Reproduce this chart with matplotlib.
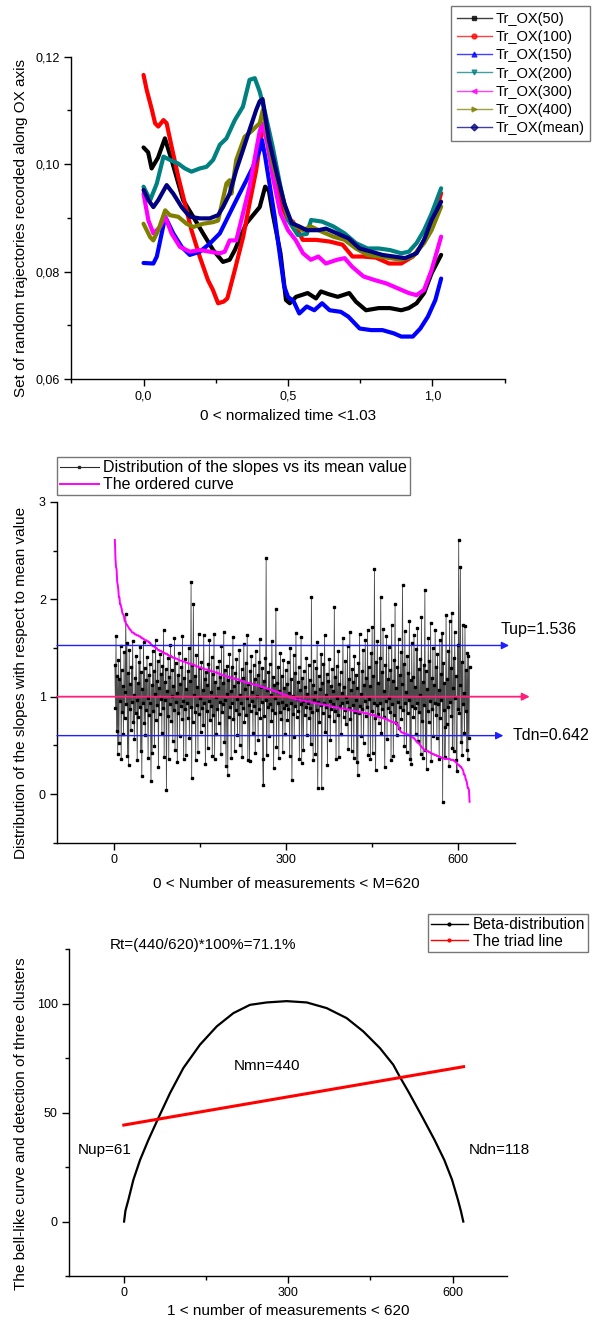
import matplotlib
matplotlib.use('Agg')
import matplotlib.pyplot as plt
from matplotlib.lines import Line2D
from matplotlib.ticker import MultipleLocator, FuncFormatter
import numpy as np

plt.rcParams['font.family'] = ['Liberation Sans', 'DejaVu Sans']

# ---------------- Panel 1 data: trajectories along OX ----------------
t50_x = [0, 0.016, 0.028, 0.05, 0.074, 0.097, 0.137, 0.172, 0.206, 0.241, 0.275, 0.298, 0.316, 0.356, 0.402,
         0.421, 0.434, 0.447, 0.474, 0.493, 0.506, 0.528, 0.568, 0.597, 0.614, 0.64, 0.672, 0.712, 0.735, 0.77,
         0.814, 0.853, 0.892, 0.918, 0.945, 0.971, 0.997, 1.03]
t50_y = [0.1031, 0.1022, 0.0992, 0.1012, 0.1048, 0.1008, 0.0933, 0.0902, 0.0871, 0.084, 0.0818, 0.0822, 0.084,
         0.089, 0.092, 0.0958, 0.0950, 0.0908, 0.0834, 0.0747, 0.0741, 0.0753, 0.0760, 0.0750, 0.0763, 0.0758,
         0.0753, 0.0760, 0.0744, 0.0728, 0.0732, 0.0732, 0.0728, 0.0732, 0.0741, 0.0760, 0.0797, 0.0831]

t100_x = [0, 0.011, 0.029, 0.04, 0.051, 0.069, 0.08, 0.097, 0.12, 0.143, 0.166, 0.195, 0.223, 0.24, 0.258, 0.277,
          0.29, 0.298, 0.316, 0.345, 0.367, 0.39, 0.41, 0.421, 0.447, 0.48, 0.5, 0.517, 0.551, 0.597, 0.643, 0.689,
          0.723, 0.758, 0.804, 0.85, 0.892, 0.932, 0.958, 0.997, 1.03]
t100_y = [0.1166, 0.1138, 0.1101, 0.1076, 0.107, 0.1082, 0.1076, 0.1033, 0.0977, 0.0927, 0.0877, 0.0827, 0.0784,
          0.0766, 0.0741, 0.0744, 0.075, 0.0766, 0.0803, 0.0865, 0.0927, 0.0989, 0.1063, 0.1063, 0.1008, 0.092,
          0.0896, 0.0893, 0.0859, 0.0859, 0.0856, 0.085, 0.0828, 0.0828, 0.0826, 0.0815, 0.0815, 0.0828, 0.0846,
          0.0884, 0.0946]

t150_x = [0, 0.034, 0.046, 0.075, 0.103, 0.132, 0.16, 0.195, 0.229, 0.264, 0.287, 0.321, 0.356, 0.379, 0.402,
          0.41, 0.421, 0.434, 0.454, 0.474, 0.487, 0.5, 0.52, 0.539, 0.565, 0.591, 0.618, 0.644, 0.683, 0.709,
          0.748, 0.788, 0.827, 0.866, 0.892, 0.932, 0.958, 0.984, 1.01, 1.03]
t150_y = [0.0816, 0.0815, 0.0828, 0.0902, 0.0871, 0.0846, 0.0831, 0.0837, 0.0852, 0.0871, 0.0896, 0.0933, 0.097,
          0.0995, 0.1026, 0.1045, 0.1014, 0.097, 0.0902, 0.0822, 0.0772, 0.0753, 0.0744, 0.0722, 0.0735, 0.0728,
          0.0741, 0.0728, 0.0725, 0.0716, 0.0694, 0.0691, 0.0691, 0.0685, 0.0679, 0.0679, 0.0694, 0.0716, 0.0747,
          0.0787]

t200_x = [0, 0.023, 0.046, 0.069, 0.091, 0.12, 0.143, 0.166, 0.195, 0.218, 0.241, 0.264, 0.287, 0.316, 0.344,
          0.367, 0.385, 0.402, 0.421, 0.447, 0.474, 0.5, 0.534, 0.565, 0.58, 0.618, 0.657, 0.696, 0.735, 0.775,
          0.814, 0.853, 0.892, 0.918, 0.945, 0.971, 0.997, 1.03]
t200_y = [0.0958, 0.0933, 0.0964, 0.1014, 0.1008, 0.1001, 0.0992, 0.0986, 0.0992, 0.0995, 0.1008, 0.1036, 0.1048,
          0.1082, 0.1107, 0.1157, 0.116, 0.1135, 0.1095, 0.1032, 0.0958, 0.0896, 0.0868, 0.0870, 0.0896, 0.0893,
          0.0884, 0.0871, 0.0853, 0.0843, 0.0843, 0.084, 0.0834, 0.0837, 0.0853, 0.0877, 0.0908, 0.0955]

t300_x = [0, 0.017, 0.034, 0.057, 0.075, 0.097, 0.126, 0.16, 0.195, 0.229, 0.264, 0.281, 0.298, 0.321, 0.344,
          0.367, 0.39, 0.402, 0.411, 0.428, 0.447, 0.474, 0.5, 0.526, 0.552, 0.579, 0.605, 0.631, 0.67, 0.696,
          0.722, 0.761, 0.801, 0.84, 0.879, 0.918, 0.945, 0.971, 0.997, 1.03]
t300_y = [0.0945, 0.0895, 0.0871, 0.0883, 0.0902, 0.0871, 0.0846, 0.0837, 0.084, 0.0837, 0.0834, 0.0837, 0.0858,
          0.0858, 0.0908, 0.0958, 0.1026, 0.1061, 0.1076, 0.1039, 0.0977, 0.0908, 0.0877, 0.0859, 0.0834, 0.0822,
          0.0828, 0.0815, 0.0822, 0.0825, 0.0809, 0.0791, 0.0784, 0.0778, 0.0769, 0.076, 0.0756, 0.0766, 0.0803,
          0.0865]

t400_x = [0, 0.023, 0.034, 0.051, 0.075, 0.091, 0.12, 0.149, 0.172, 0.206, 0.241, 0.258, 0.287, 0.298, 0.304,
          0.321, 0.35, 0.373, 0.39, 0.402, 0.413, 0.428, 0.447, 0.474, 0.5, 0.526, 0.552, 0.579, 0.618, 0.657,
          0.696, 0.735, 0.775, 0.814, 0.853, 0.892, 0.932, 0.971, 0.997, 1.03]
t400_y = [0.0889, 0.0864, 0.0858, 0.0877, 0.0914, 0.0905, 0.0902, 0.0889, 0.0883, 0.0889, 0.0892, 0.0895, 0.0964,
          0.097, 0.0945, 0.1008, 0.1051, 0.1061, 0.107, 0.1076, 0.1101, 0.1057, 0.1001, 0.0952, 0.0902, 0.0884,
          0.0877, 0.0884, 0.0874, 0.0865, 0.0859, 0.0843, 0.0831, 0.0828, 0.0825, 0.0822, 0.0828, 0.0853, 0.0877,
          0.0921]

tmean_x = [0, 0.017, 0.034, 0.051, 0.08, 0.103, 0.132, 0.16, 0.195, 0.229, 0.258, 0.275, 0.298, 0.321, 0.344,
           0.367, 0.39, 0.402, 0.412, 0.434, 0.461, 0.487, 0.513, 0.539, 0.565, 0.605, 0.631, 0.67, 0.709, 0.748,
           0.788, 0.827, 0.866, 0.905, 0.945, 0.971, 0.997, 1.03]
tmean_y = [0.0952, 0.0933, 0.092, 0.0933, 0.0961, 0.0945, 0.092, 0.0902, 0.0899, 0.0899, 0.0905, 0.092, 0.0945,
           0.0989, 0.1026, 0.1064, 0.1101, 0.1117, 0.1121, 0.1045, 0.0983, 0.0927, 0.089, 0.0884, 0.0877, 0.0877,
           0.088, 0.0871, 0.0862, 0.0843, 0.0837, 0.0831, 0.0828, 0.0825, 0.0834, 0.0859, 0.0896, 0.093]

traj_labels = ['Tr_OX(50)', 'Tr_OX(100)', 'Tr_OX(150)', 'Tr_OX(200)', 'Tr_OX(300)', 'Tr_OX(400)', 'Tr_OX(mean)']

# ---------------- Panel 2 data: slopes relative to mean ----------------
slopes = [
    1.33, 0.88, 1.62, 0.65, 1.21, 0.41, 1.38, 0.52, 1.18, 0.96, 1.52, 0.36, 1.27, 0.84, 1.11, 0.62, 1.46, 0.78, 1.05, 1.85,
    0.92, 1.55, 0.39, 1.24, 0.30, 1.48, 0.87, 1.13, 0.66, 1.31, 0.95, 1.57, 0.74, 1.02, 0.57, 1.19, 0.83, 1.42, 0.97, 0.35,
    1.14, 0.79, 1.36, 0.89, 1.51, 0.44, 1.25, 0.19, 1.08, 0.93, 1.56, 0.73, 1.29, 0.61, 1.17, 0.86, 1.41, 0.99, 0.37, 1.22,
    0.81, 1.34, 0.94, 0.13, 1.12, 0.42, 1.47, 0.85, 1.26, 0.49, 1.03, 1.58, 0.76, 1.16, 0.91, 1.37, 0.28, 1.09, 0.82, 1.44,
    0.98, 1.23, 0.63, 1.32, 0.88, 1.69, 0.38, 1.15, 0.97, 1.28, 0.04, 1.06, 0.80, 1.40, 0.36, 1.20, 0.92, 1.53, 0.75, 1.01,
    1.27, 0.54, 1.11, 0.86, 1.60, 0.45, 1.35, 0.95, 1.04, 0.33, 1.22, 0.83, 1.45, 0.60, 1.13, 0.90, 1.30, 0.77, 1.62, 0.96,
    0.36, 1.19, 0.87, 1.39, 0.40, 1.08, 0.93, 1.26, 0.78, 1.50, 0.58, 1.16, 0.89, 2.18, 0.16, 1.33, 0.74, 1.95, 1.02, 0.84,
    1.21, 0.35, 1.43, 0.91, 1.10, 0.43, 1.64, 0.82, 1.29, 0.99, 0.64, 1.36, 0.88, 1.07, 0.71, 1.63, 0.94, 1.18, 0.31, 1.25,
    0.85, 1.12, 0.47, 1.34, 0.96, 1.58, 0.76, 1.05, 0.90, 1.41, 0.39, 1.23, 0.81, 1.64, 0.36, 1.15, 1.00, 0.62, 1.30, 0.87,
    1.09, 0.73, 1.37, 0.95, 1.20, 0.41, 1.52, 0.84, 1.14, 0.92, 1.66, 0.53, 1.27, 0.97, 0.29, 1.03, 1.32, 0.20, 1.17, 0.79,
    1.44, 0.89, 1.06, 0.37, 1.31, 0.93, 1.61, 0.77, 1.11, 0.44, 1.24, 0.86, 1.39, 0.98, 0.61, 1.15, 0.82, 1.48, 0.50, 1.02,
    0.94, 1.28, 0.38, 1.19, 0.88, 1.54, 0.74, 1.08, 1.35, 0.81, 0.99, 1.63, 0.35, 1.13, 0.91, 0.34, 1.26, 0.85, 1.42, 0.96,
    1.05, 0.63, 1.33, 0.90, 1.18, 0.42, 1.47, 0.83, 1.01, 1.22, 0.56, 1.36, 0.87, 1.59, 0.78, 1.10, 0.95, 1.29, 0.36, 0.09,
    1.16, 0.80, 1.40, 0.97, 2.42, 0.40, 1.07, 0.89, 1.25, 0.60, 1.34, 0.92, 1.02, 0.75, 1.57, 0.86, 1.20, 0.27, 1.12, 0.83,
    0.99, 1.90, 0.48, 1.14, 0.93, 1.31, 0.37, 1.06, 0.84, 1.45, 0.77, 1.21, 0.95, 0.43, 1.38, 0.88, 1.09, 0.62, 1.27, 0.91,
    1.13, 0.76, 1.36, 0.87, 1.04, 0.39, 1.50, 0.94, 1.18, 0.14, 1.01, 0.82, 1.43, 0.59, 1.24, 0.90, 1.65, 0.79, 0.98, 1.15,
    0.85, 1.30, 0.36, 1.07, 0.92, 1.61, 0.32, 1.19, 0.96, 0.45, 1.26, 0.81, 1.10, 0.89, 1.40, 0.61, 1.03, 0.93, 1.33, 0.78,
    1.17, 0.88, 0.51, 2.02, 0.84, 1.12, 0.35, 1.37, 0.97, 1.05, 0.41, 1.29, 0.86, 1.56, 0.06, 0.95, 1.21, 0.74, 1.08, 0.91,
    1.44, 0.06, 1.14, 0.83, 1.34, 0.94, 1.63, 0.64, 1.02, 0.89, 1.23, 0.30, 1.16, 0.80, 1.39, 0.96, 0.55, 1.11, 0.87, 1.28,
    0.92, 1.06, 0.75, 1.92, 0.85, 1.20, 0.36, 1.32, 0.99, 0.81, 1.47, 0.38, 1.13, 0.90, 1.25, 0.62, 1.04, 0.93, 1.60, 0.79,
    1.10, 0.86, 1.37, 0.72, 1.00, 0.95, 1.52, 0.46, 1.18, 0.88, 1.66, 0.77, 1.07, 0.44, 1.28, 0.91, 1.15, 0.37, 1.42, 0.84,
    0.97, 1.22, 0.33, 1.09, 0.20, 1.35, 0.83, 1.64, 0.90, 1.03, 0.60, 1.26, 0.87, 1.48, 0.52, 1.12, 0.96, 1.58, 0.80, 1.19,
    0.89, 1.68, 0.40, 1.30, 0.98, 1.11, 0.36, 1.45, 0.85, 1.72, 0.42, 1.21, 0.94, 2.31, 0.78, 0.25, 1.36, 0.91, 1.57, 0.82,
    1.14, 0.73, 1.40, 0.93, 2.02, 0.63, 1.25, 0.87, 1.70, 0.79, 1.06, 0.28, 1.33, 0.96, 1.62, 0.57, 1.18, 0.88, 1.51, 0.99,
    0.84, 1.27, 0.35, 1.74, 0.92, 1.16, 0.39, 1.38, 0.81, 1.95, 0.73, 1.09, 0.61, 1.31, 0.95, 1.59, 0.68, 1.22, 0.89, 1.46,
    0.77, 1.13, 2.15, 0.86, 1.34, 0.49, 1.67, 0.94, 1.05, 0.43, 1.42, 0.83, 1.24, 0.97, 1.78, 0.36, 1.17, 0.31, 1.55, 0.90,
    1.20, 0.79, 1.63, 0.88, 1.10, 0.62, 1.49, 0.93, 1.71, 0.54, 1.28, 0.84, 1.02, 1.39, 0.41, 1.82, 0.75, 1.15, 0.37, 1.33,
    0.91, 2.10, 0.45, 1.26, 0.26, 1.08, 0.85, 1.60, 0.74, 1.37, 0.96, 1.76, 0.34, 1.19, 0.87, 1.50, 0.60, 1.12, 0.94, 1.69,
    0.81, 1.30, 0.58, 1.44, 0.92, 1.07, 0.36, 1.58, 0.78, 1.23, 0.97, 1.65, -0.08, 1.35, 0.86, 1.14, 0.38, 0.69, 1.84, 0.72,
    1.18, 0.89, 1.47, 0.29, 1.78, 0.95, 1.29, 0.80, 1.86, 0.47, 1.09, 1.40, 0.44, 1.66, 0.99, 1.21, 0.35, 0.24, 1.53, 0.87,
    2.61, 0.83, 1.12, 2.33, 0.53, 1.36, 0.40, 1.74, 0.92, 1.04, 0.63, 1.73, 0.85, 1.27, 0.45, 1.45, 0.36, 1.42, 0.58, 1.30,
]
tup_value = 1.536
tdn_value = 0.642
tdn_line = 0.60   # level at which the Tdn arrow is drawn in the figure
mean_level = 1.0

# ---------------- Panel 3 data: bell-like curve & triad line ----------------
beta_x = [0.5, 3, 8.4, 17.5, 29.7, 44.9, 63, 84.4, 108.7, 139, 169.6, 200, 230.3, 260.8, 297.3, 333.8, 370.2,
          406.7, 437, 467.5, 491.7, 504, 520.8, 545.8, 567, 584.8, 599, 609.7, 615, 619.5]
beta_y = [0, 5, 10, 19.2, 28.3, 37.5, 47.5, 59, 70.5, 81.2, 89.6, 95.7, 99.5, 100.6, 101.2, 100.6, 98, 93.4, 87.3,
          79.6, 72, 66.3, 59, 47.5, 37.5, 28.3, 19.2, 10, 5, 0]
triad_x = [0, 620]
triad_y = [44.3, 71.1]

# ---------------- Figure ----------------
W, H = 595, 1324
fig = plt.figure(figsize=(W / 100, H / 100), dpi=100)


def add_axes(l, r, t, b):
    return fig.add_axes([l / W, 1 - b / H, (r - l) / W, (b - t) / H])


def style(ax):
    for s in ('top', 'right'):
        ax.spines[s].set_visible(False)
    for s in ('left', 'bottom'):
        ax.spines[s].set_linewidth(1.0)
    ax.tick_params(which='major', direction='out', length=5, width=1, labelsize=9, pad=3)
    ax.tick_params(which='minor', direction='out', length=3, width=1)


LAB_FS = 11

# ---- Panel 1 ----
ax1 = add_axes(71.3, 504.7, 56.7, 379)
style(ax1)
series = [(t50_x, t50_y, 'black', 's'), (t100_x, t100_y, '#ff0000', 'o'), (t150_x, t150_y, '#0000ff', '^'),
          (t200_x, t200_y, '#008080', 'v'), (t300_x, t300_y, '#ff00ff', '<'), (t400_x, t400_y, '#808000', '>'),
          (tmean_x, tmean_y, '#000080', 'D')]
handles1 = []
for (xs, ys, c, m), lab in zip(series, traj_labels):
    ax1.plot(xs, ys, color=c, lw=3.0, solid_joinstyle='round', solid_capstyle='round')
    handles1.append(Line2D([], [], color=c, lw=1.0, alpha=0.75, marker=m, markersize=3.5,
                           markerfacecolor=c, markeredgecolor=c))
ax1.set_xlim(-0.25, 1.25)
ax1.set_ylim(0.06, 0.12)
ax1.xaxis.set_major_locator(MultipleLocator(0.5))
ax1.xaxis.set_minor_locator(MultipleLocator(0.25))
ax1.yaxis.set_major_locator(MultipleLocator(0.02))
ax1.yaxis.set_minor_locator(MultipleLocator(0.01))
ax1.xaxis.set_major_formatter(FuncFormatter(lambda v, p: f"{v:.1f}".replace('.', ',')))
ax1.yaxis.set_major_formatter(FuncFormatter(lambda v, p: f"{v:.2f}".replace('.', ',')))
ax1.set_ylabel('Set of random trajectories recorded along OX axis', fontsize=LAB_FS)
ax1.yaxis.set_label_coords(-0.10, 0.47)
ax1.set_xlabel('0 < normalized time <1.03', fontsize=LAB_FS)
ax1.xaxis.set_label_coords(0.5, -0.093)
leg1 = fig.legend(handles1, traj_labels, loc='upper left', bbox_to_anchor=(451 / W, 1 - 6 / H),
                  bbox_transform=fig.transFigure, fontsize=10.5, frameon=True, fancybox=False,
                  edgecolor='#555555', borderaxespad=0, handlelength=2.4, handletextpad=0.25,
                  labelspacing=0.29, borderpad=0.4)
leg1.get_frame().set_linewidth(1.0)

# ---- Panel 2 ----
ax2 = add_axes(57, 515.4, 502, 842.7)
style(ax2)
idx = np.arange(1, len(slopes) + 1)
ordered = np.sort(np.array(slopes))[::-1]
ax2.plot(idx, slopes, color='#4a4a4a', lw=0.6, marker='s', markersize=1.6, markerfacecolor='black',
         markeredgecolor='black', zorder=2)
ax2.plot(idx, ordered, color='#ff00ff', lw=1.4, zorder=3)
ax2.set_xlim(-100, 700)
ax2.set_ylim(-0.5, 3)
arrow_kw = dict(arrowstyle='-|>', mutation_scale=11, shrinkA=0, shrinkB=0)
ax2.annotate('', xy=(689, tup_value - 0.01), xytext=(-100, tup_value - 0.01), annotation_clip=False,
             arrowprops=dict(color='#1f1fff', lw=1.0, **arrow_kw), zorder=4)
ax2.annotate('', xy=(679, tdn_line), xytext=(-100, tdn_line), annotation_clip=False,
             arrowprops=dict(color='#1f1fff', lw=1.0, **arrow_kw), zorder=4)
ax2.annotate('', xy=(725, mean_level), xytext=(-100, mean_level), annotation_clip=False,
             arrowprops=dict(color='#ff1f7a', lw=1.3, **arrow_kw), zorder=4)
ax2.text(675, 1.694, f'Tup={tup_value}', fontsize=11.5, va='center', ha='left', clip_on=False)
ax2.text(695, tdn_line, f'Tdn={tdn_value}', fontsize=11.5, va='center', ha='left', clip_on=False)
ax2.xaxis.set_major_locator(MultipleLocator(300))
ax2.xaxis.set_minor_locator(MultipleLocator(150))
ax2.yaxis.set_major_locator(MultipleLocator(1))
ax2.yaxis.set_minor_locator(MultipleLocator(0.5))
ax2.set_ylabel('Distribution of the slopes with respect to mean value', fontsize=LAB_FS)
ax2.yaxis.set_label_coords(-0.063, 0.47)
ax2.set_xlabel('0 < Number of measurements < M=620', fontsize=LAB_FS)
ax2.xaxis.set_label_coords(0.5, -0.10)
handles2 = [Line2D([], [], color='#2a2a2a', lw=0.8, marker='s', markersize=2, markerfacecolor='black'),
            Line2D([], [], color='#ff00ff', lw=1.4)]
leg2 = fig.legend(handles2, ['Distribution of the slopes vs its mean value', 'The ordered curve'],
                  loc='upper left', bbox_to_anchor=(57 / W, 1 - 457.3 / H), bbox_transform=fig.transFigure,
                  fontsize=11.5, frameon=True, fancybox=False, edgecolor='#555555', borderaxespad=0,
                  handlelength=2.4, handletextpad=0.3, labelspacing=0.1, borderpad=0.2)
leg2.get_frame().set_linewidth(1.0)

# ---- Panel 3 ----
ax3 = add_axes(69, 507.4, 949.3, 1276)
style(ax3)
ax3.plot(beta_x, beta_y, color='black', lw=1.6)
ax3.plot(triad_x, triad_y, color='#ff0000', lw=2.2)
ax3.set_xlim(-100, 700)
ax3.set_ylim(-25, 125)
ax3.xaxis.set_major_locator(MultipleLocator(300))
ax3.xaxis.set_minor_locator(MultipleLocator(150))
ax3.yaxis.set_major_locator(MultipleLocator(50))
ax3.yaxis.set_minor_locator(MultipleLocator(25))
ax3.text(-25, 126.8, 'Rt=(440/620)*100%=71.1%', fontsize=11, va='center', ha='left', clip_on=False)
ax3.text(200, 71.5, 'Nmn=440', fontsize=11, va='center', ha='left')
ax3.text(-84, 33, 'Nup=61', fontsize=11, va='center', ha='left')
ax3.text(629, 33, 'Ndn=118', fontsize=11, va='center', ha='left', clip_on=False)
ax3.set_ylabel('The bell-like curve and detection of three clusters', fontsize=LAB_FS)
ax3.yaxis.set_label_coords(-0.0935, 0.467)
ax3.set_xlabel('1 < number of measurements < 620', fontsize=LAB_FS)
ax3.xaxis.set_label_coords(0.5, -0.086)
handles3 = [Line2D([], [], color='black', lw=1.0, marker='o', markersize=2),
            Line2D([], [], color='#ff0000', lw=1.0, marker='o', markersize=2)]
leg3 = fig.legend(handles3, ['Beta-distribution', 'The triad line'], loc='upper left',
                  bbox_to_anchor=(427.7 / W, 1 - 914 / H), bbox_transform=fig.transFigure,
                  fontsize=11.2, frameon=True, fancybox=False, edgecolor='#555555', borderaxespad=0,
                  handlelength=2.4, handletextpad=0.3, labelspacing=0.1, borderpad=0.2)
leg3.get_frame().set_linewidth(1.0)

fig.savefig('out.png', dpi=100)
